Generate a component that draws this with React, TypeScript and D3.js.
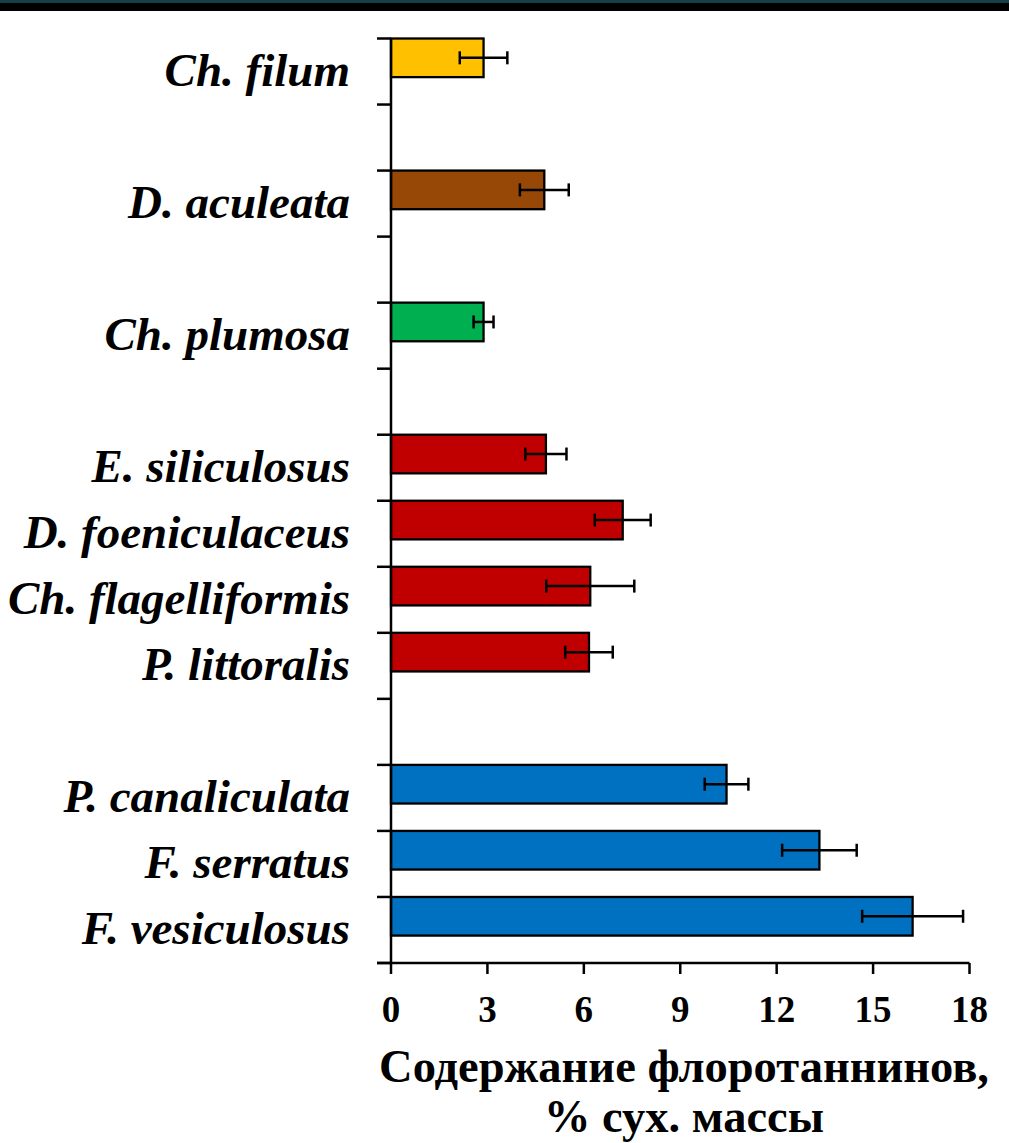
import React from "react";
import * as d3 from "d3";

// Phlorotannin content by species, % of dry mass (top to bottom)
const species = [
  "Ch. filum",
  "D. aculeata",
  "Ch. plumosa",
  "E. siliculosus",
  "D. foeniculaceus",
  "Ch. flagelliformis",
  "P. littoralis",
  "P. canaliculata",
  "F. serratus",
  "F. vesiculosus",
];
const values = [2.88, 4.77, 2.88, 4.82, 7.21, 6.2, 6.16, 10.44, 13.33, 16.23];
const errors = [0.74, 0.76, 0.31, 0.64, 0.87, 1.37, 0.74, 0.68, 1.16, 1.57];
// taxonomic group of each species, and the fill used for each group
const groupOf = [0, 1, 2, 3, 3, 3, 3, 4, 4, 4];
const groupColors = ["#FFC000", "#974806", "#00B050", "#C00000", "#0070C0"];
const xTicks = [0, 3, 6, 9, 12, 15, 18];
const titleLines = ["Содержание флоротаннинов,", "% сух. массы"];

const W = 1009;
const H = 1143;
const FONT = "'Liberation Serif', 'Times New Roman', serif";

// one band per species, plus an empty band between groups
const slots: string[] = [];
species.forEach((s, i) => {
  if (i > 0 && groupOf[i] !== groupOf[i - 1]) slots.push(`gap-${i}`);
  slots.push(s);
});

export default function App() {
  const left = 391;
  const right = 969.5;
  const top = 38.5;
  const bottom = 963;

  const x = d3.scaleLinear().domain([0, 18]).range([left, right]);
  const y = d3.scaleBand<string>().domain(slots).range([top, bottom]).padding(0);
  const step = y.step();
  const barH = step * 0.585;
  const cap = 6.5;

  const boundaries = d3.range(slots.length + 1).map((i) => top + i * step);

  return (
    <svg
      width={W}
      height={H}
      viewBox={`0 0 ${W} ${H}`}
      style={{ position: "absolute", left: 0, top: 0, background: "#fff" }}
    >
      <rect x={0} y={0} width={W} height={H} fill="#fff" />
      {/* header strip */}
      <rect x={0} y={0} width={W} height={11} fill="#000" />
      <rect x={0} y={0} width={W} height={3} fill="#163f49" />

      {/* bars */}
      {species.map((s, i) => {
        const y0 = y(s)!;
        const cy = y0 + barH / 2;
        const v = values[i];
        const e = errors[i];
        return (
          <g key={s}>
            <rect
              x={x(0)}
              y={y0}
              width={x(v) - x(0)}
              height={barH}
              fill={groupColors[groupOf[i]]}
              stroke="#000"
              strokeWidth={2.3}
            />
            <g stroke="#000" strokeWidth={2.5}>
              <line x1={x(v - e)} x2={x(v + e)} y1={cy} y2={cy} />
              <line x1={x(v - e)} x2={x(v - e)} y1={cy - cap} y2={cy + cap} />
              <line x1={x(v + e)} x2={x(v + e)} y1={cy - cap} y2={cy + cap} />
            </g>
            <text
              x={350}
              y={y0 + step / 2 + 14}
              textAnchor="end"
              fontFamily={FONT}
              fontWeight="bold"
              fontStyle="italic"
              fontSize={47}
              fill="#000"
            >
              {s}
            </text>
          </g>
        );
      })}

      {/* y axis */}
      <g stroke="#000" strokeWidth={2.5}>
        <line x1={left} x2={left} y1={top} y2={bottom} />
        {boundaries.map((b, i) => (
          <line key={i} x1={left - 14} x2={left} y1={b} y2={b} />
        ))}
      </g>

      {/* x axis */}
      <g stroke="#000" strokeWidth={2.5}>
        <line x1={left - 14} x2={right} y1={bottom} y2={bottom} />
        {xTicks.map((t) => (
          <line key={t} x1={x(t)} x2={x(t)} y1={bottom} y2={bottom + 11} />
        ))}
      </g>
      {xTicks.map((t) => (
        <text
          key={t}
          x={x(t)}
          y={1022}
          textAnchor="middle"
          fontFamily={FONT}
          fontWeight="bold"
          fontSize={37}
          fill="#000"
        >
          {t}
        </text>
      ))}

      {/* axis title */}
      {titleLines.map((line, i) => (
        <text
          key={i}
          x={684}
          y={1082 + i * 50}
          textAnchor="middle"
          fontFamily={FONT}
          fontWeight="bold"
          fontSize={46.5}
          fill="#000"
        >
          {line}
        </text>
      ))}
    </svg>
  );
}
